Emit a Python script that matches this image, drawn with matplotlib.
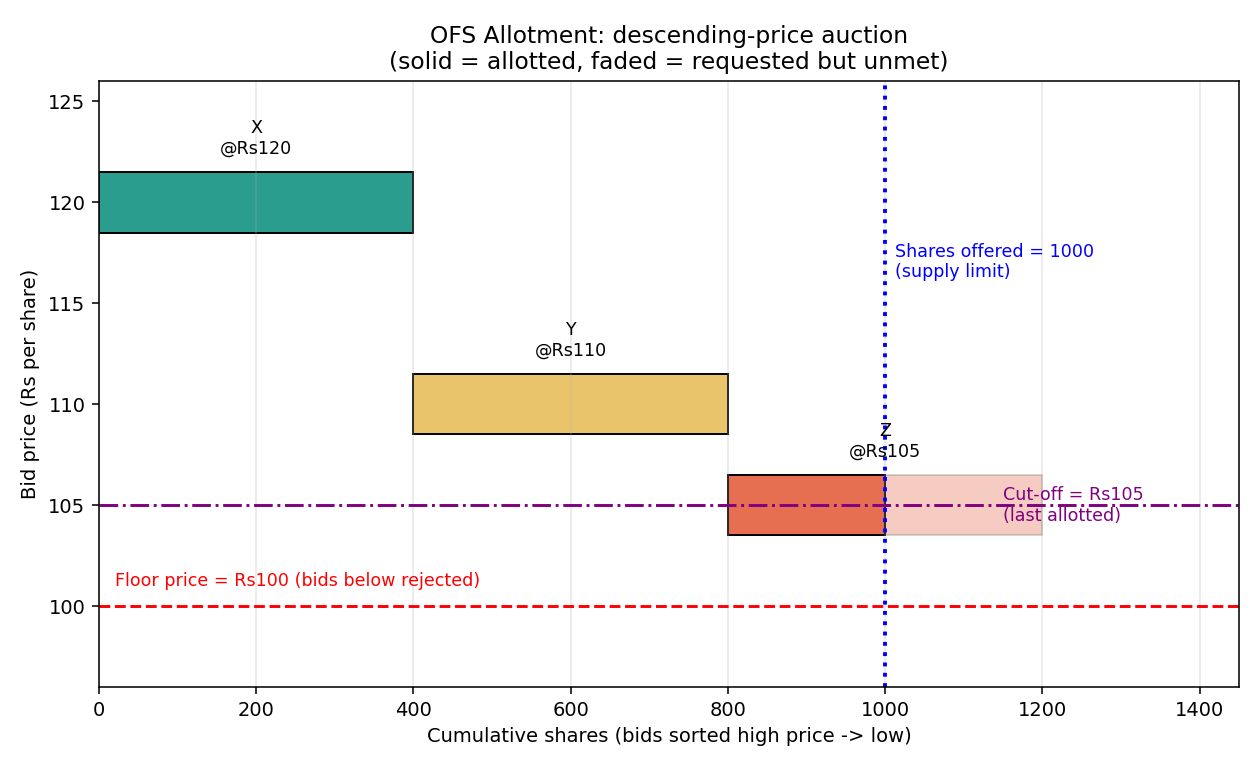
import matplotlib.pyplot as plt

# bids (sorted high price -> low)
bidders = ["X", "Y", "Z"]
prices = [120, 110, 105]
requested = [400, 400, 400]
allotted = [400, 400, 200]
colors = ["#2a9d8f", "#e9c46a", "#e76f51"]

shares_offered = 1000
floor_price = 100
cutoff_price = 105

fig = plt.figure(figsize=(9, 5.5), dpi=140)
ax = fig.add_axes([0.0786, 0.1078, 0.9047, 0.787])

start = 0
for name, p, req, alt, c in zip(bidders, prices, requested, allotted, colors):
    # faded = full request, solid = allotted part
    if alt < req:
        ax.barh(p, req, left=start, height=3, color=c, alpha=0.35, edgecolor="grey")
    ax.barh(p, alt, left=start, height=3, color=c, edgecolor="black")
    ax.text(start + req / 2, p + 2.2, f"{name}\n@Rs{p}", ha="center", va="bottom", fontsize=9)
    start += req

ax.axvline(shares_offered, color="blue", linestyle=":", linewidth=2)
ax.text(shares_offered + 12, 118, f"Shares offered = {shares_offered}\n(supply limit)",
        color="blue", fontsize=9, va="top")

ax.axhline(floor_price, color="red", linestyle="--", linewidth=1.5)
ax.text(20, floor_price + 0.8, f"Floor price = Rs{floor_price} (bids below rejected)",
        color="red", fontsize=9, va="bottom")

ax.axhline(cutoff_price, color="purple", linestyle="-.", linewidth=1.5)
ax.text(1150, cutoff_price, f"Cut-off = Rs{cutoff_price}\n(last allotted)",
        color="purple", fontsize=9, va="center")

ax.set_xlim(0, 1450)
ax.set_ylim(96, 126)
ax.set_xlabel("Cumulative shares (bids sorted high price -> low)")
ax.set_ylabel("Bid price (Rs per share)")
ax.set_title("OFS Allotment: descending-price auction\n(solid = allotted, faded = requested but unmet)",
             fontsize=12)
ax.grid(axis="x", alpha=0.3)

fig.savefig("out.png")
